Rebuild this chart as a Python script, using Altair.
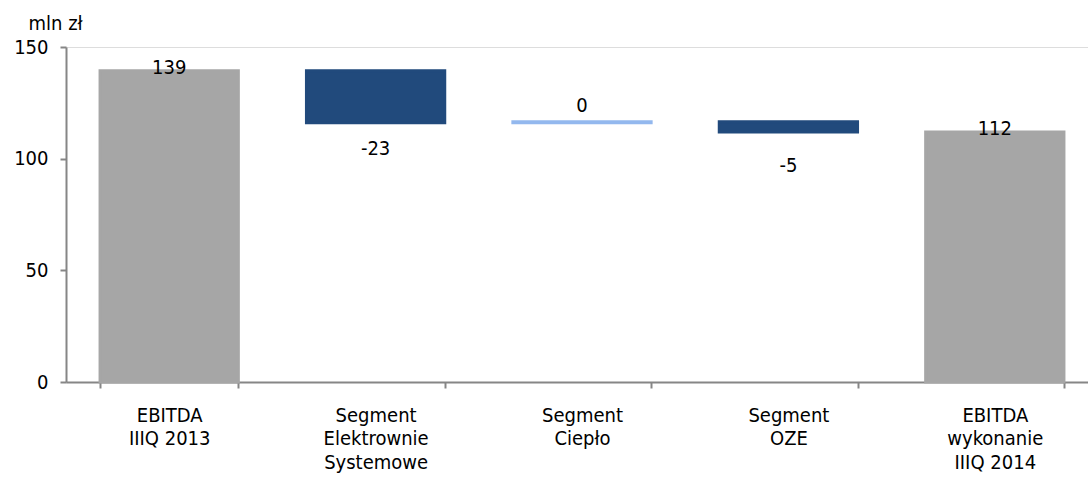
import altair as alt
import pandas as pd

categories = ["EBITDA\nIIIQ 2013", "Segment\nElektrownie\nSystemowe", "Segment\nCiepło",
              "Segment\nOZE", "EBITDA\nwykonanie\nIIIQ 2014"]
values = [139.4, -23.3, 0.4, -4.6, 111.9]
labels = ["139", "-23", "0", "-5", "112"]
kinds = ["total", "decrease", "increase", "decrease", "total"]

rows = []
running = 0.0
for i, (c, v, l, k) in enumerate(zip(categories, values, labels, kinds)):
    if k == "total":
        start, end = 0.0, v
        running = v
    else:
        start, end = running, running + v
        running = end
    rows.append({"cat": c, "order": i, "start": start, "end": end,
                 "top": max(start, end), "bottom": min(start, end),
                 "label": l, "kind": k})
df = pd.DataFrame(rows)

FONT = "DejaVu Sans Condensed, Liberation Sans, sans-serif"
AX = "#868686"
FS = 20

x = alt.X("cat:N", sort=categories, title=None,
          scale=alt.Scale(paddingInner=0.33, paddingOuter=0.165, range=[0, 1032]),
          axis=alt.Axis(labelAngle=0, labelExpr="split(datum.label, '\\n')",
                        labelFont=FONT, labelFontSize=FS, labelColor="black",
                        labelLineHeight=23.5, labelPadding=17, tickBand="extent",
                        tickSize=6, tickColor=AX, domainColor=AX, domainWidth=2,
                        tickWidth=2, labelBaseline="top"))

color = alt.Color("kind:N", legend=None,
                  scale=alt.Scale(domain=["total", "decrease", "increase"],
                                  range=["#A6A6A6", "#214A7C", "#93B8EE"]))

bars = alt.Chart(df).mark_bar(strokeWidth=3).encode(
    x=x,
    y=alt.Y("start:Q", title="mln zł", scale=alt.Scale(domain=[0, 150], nice=False),
            axis=alt.Axis(values=[0, 50, 100, 150], grid=False, labelFont=FONT,
                          labelFontSize=FS, labelColor="black", labelPadding=12,
                          tickSize=6, tickColor=AX, domainColor=AX, domainWidth=2,
                          tickWidth=2, titleAngle=0, titleAlign="left",
                          titleBaseline="alphabetic", titleX=-38, titleY=-18,
                          titleFont=FONT, titleFontSize=FS, titleFontWeight="normal",
                          titleColor="black")),
    y2="end:Q",
    color=color,
    stroke=color,
)

txt = dict(font=FONT, fontSize=FS, color="black")

top_labels = alt.Chart(df).transform_filter("datum.kind == 'total'").mark_text(
    baseline="alphabetic", dy=3, **txt).encode(
    x=alt.X("cat:N", sort=categories), y="top:Q", text="label:N")

inc_labels = alt.Chart(df).transform_filter("datum.kind == 'increase'").mark_text(
    baseline="alphabetic", dy=-10, **txt).encode(
    x=alt.X("cat:N", sort=categories), y="top:Q", text="label:N")

dec1 = alt.Chart(df).transform_filter("datum.kind == 'decrease' && datum.order == 1").mark_text(
    baseline="top", dy=16, **txt).encode(
    x=alt.X("cat:N", sort=categories), y="bottom:Q", text="label:N")

dec2 = alt.Chart(df).transform_filter("datum.kind == 'decrease' && datum.order == 3").mark_text(
    baseline="top", dy=24, **txt).encode(
    x=alt.X("cat:N", sort=categories), y="bottom:Q", text="label:N")

chart = alt.layer(bars, top_labels, inc_labels, dec1, dec2).properties(
    width=1022, height=335,
    autosize=alt.AutoSizeParams(type="none"),
    padding={"left": 66, "top": 47, "right": 0, "bottom": 98},
).configure_view(stroke=None).configure(background="white")

chart.save("out.html", embed_options={"renderer": "svg", "actions": False})
